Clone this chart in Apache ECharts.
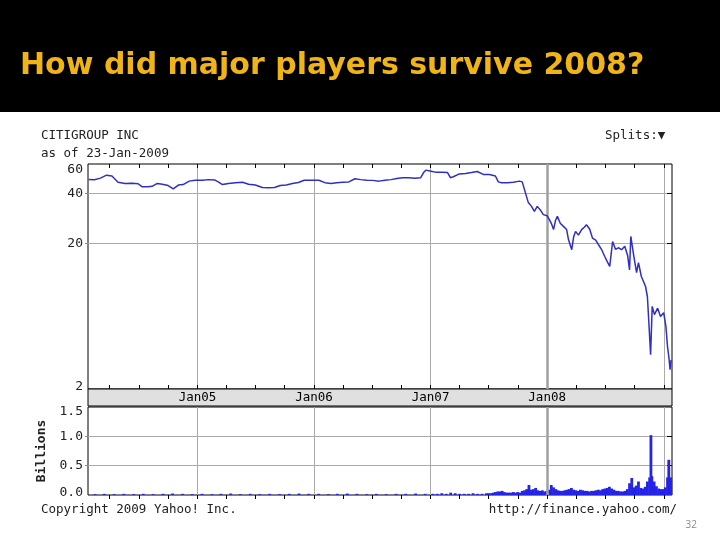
<!DOCTYPE html>
<html><head><meta charset="utf-8">
<script src="https://cdn.jsdelivr.net/npm/echarts@6/dist/echarts.min.js"></script>
<style>html,body{margin:0;padding:0;background:#fff}#c{width:720px;height:540px}</style>
</head><body><div id="c"></div>
<script>
// ---- data ----
const priceDates = [
'2004-01-26','2004-02-13','2004-03-03','2004-03-22','2004-04-08','2004-04-27','2004-05-19','2004-06-10','2004-06-29','2004-07-11',
'2004-07-30','2004-08-12','2004-08-28','2004-09-13','2004-10-01','2004-10-17','2004-11-02','2004-11-17','2004-12-06','2004-12-25',
'2005-01-16','2005-02-04','2005-02-23','2005-03-07','2005-03-20','2005-04-08','2005-04-30','2005-05-22','2005-06-10','2005-07-01',
'2005-07-23','2005-08-11','2005-08-30','2005-09-17','2005-10-06','2005-10-25','2005-11-13','2005-12-01','2005-12-20',
'2006-01-16','2006-02-04','2006-02-23','2006-03-13','2006-04-01','2006-04-20','2006-05-09','2006-05-27','2006-06-15','2006-07-04',
'2006-07-23','2006-08-11','2006-08-30','2006-09-17','2006-10-06','2006-10-25','2006-11-13','2006-12-01','2006-12-10','2006-12-17',
'2007-01-02','2007-01-16','2007-02-04','2007-02-23','2007-03-04','2007-03-13','2007-04-01','2007-04-20','2007-05-09','2007-05-27',
'2007-06-15','2007-07-04','2007-07-23','2007-08-01','2007-08-11','2007-08-30','2007-09-17','2007-10-06','2007-10-15','2007-10-25',
'2007-11-03','2007-11-13','2007-11-22','2007-12-01','2007-12-10','2007-12-20',
'2008-01-01','2008-01-08','2008-01-14','2008-01-21','2008-01-27','2008-02-02','2008-02-11','2008-02-21','2008-03-02','2008-03-08',
'2008-03-18','2008-03-24','2008-03-30','2008-04-08','2008-04-18','2008-04-27','2008-05-03','2008-05-13','2008-05-22','2008-06-01',
'2008-06-10','2008-06-19','2008-06-29','2008-07-08','2008-07-15','2008-07-24','2008-08-02','2008-08-12','2008-08-21','2008-08-31',
'2008-09-09','2008-09-15','2008-09-19','2008-09-28','2008-10-07','2008-10-13','2008-10-22','2008-11-04','2008-11-10','2008-11-14',
'2008-11-20','2008-11-25','2008-12-02','2008-12-12','2008-12-21','2008-12-31',
'2009-01-07','2009-01-12','2009-01-16','2009-01-20','2009-01-23'
];
const priceValues = [
48.6,48.4,49.5,51.6,51.0,46.8,46.0,46.2,45.8,44.0,
43.9,44.2,46.0,45.5,44.7,42.7,45.0,45.3,47.5,48.1,
48.1,48.5,48.3,47.0,45.3,46.0,46.5,46.8,45.5,45.0,
43.5,43.3,43.5,44.7,45.0,46.0,46.6,48.1,48.1,
48.1,46.5,46.0,46.5,46.8,47.0,49.1,48.5,48.1,48.0,
47.5,48.1,48.5,49.3,49.8,49.8,49.5,49.8,53.5,55.3,
54.5,53.8,53.8,53.5,49.8,50.5,52.5,52.8,53.5,54.3,
52.1,52.0,51.0,47.0,46.4,46.5,46.8,47.5,47.0,40.4,
35.3,33.5,31.3,33.5,32.0,29.9,
29.4,27.9,26.5,24.3,27.5,29.2,26.5,25.4,24.3,21.1,
18.4,22.0,23.7,22.5,24.3,25.2,26.0,24.5,21.6,21.0,
19.7,18.5,16.8,15.5,14.6,20.6,18.5,18.9,18.4,19.3,
17.0,13.9,22.1,17.0,13.4,15.4,12.7,11.1,9.6,7.0,
4.3,8.4,7.5,8.2,7.3,7.7,
6.35,4.8,4.2,3.5,4.0
];
const volDates = [
'2004-02-15','2004-03-15','2004-04-15','2004-05-15','2004-06-15','2004-07-15','2004-08-15','2004-09-15','2004-10-15','2004-11-15','2004-12-15',
'2005-01-15','2005-02-15','2005-03-15','2005-04-15','2005-05-15','2005-06-15','2005-07-15','2005-08-15','2005-09-15','2005-10-15','2005-11-15','2005-12-15',
'2006-01-15','2006-02-15','2006-03-15','2006-04-15','2006-05-15','2006-06-15','2006-07-15','2006-08-15','2006-09-15','2006-10-15','2006-11-15','2006-12-15',
'2007-01-08','2007-01-22','2007-02-05','2007-02-19','2007-03-05','2007-03-19','2007-04-02','2007-04-16','2007-04-30','2007-05-14','2007-05-28','2007-06-11','2007-06-25',
'2007-07-02','2007-07-09','2007-07-16','2007-07-23','2007-07-30','2007-08-06','2007-08-13','2007-08-20','2007-08-27','2007-09-03','2007-09-10','2007-09-17','2007-09-24',
'2007-10-01','2007-10-08','2007-10-15','2007-10-22','2007-10-29','2007-11-05','2007-11-12','2007-11-19','2007-11-26','2007-12-03','2007-12-10','2007-12-17','2007-12-24','2007-12-31',
'2008-01-07','2008-01-14','2008-01-21','2008-01-28','2008-02-04','2008-02-11','2008-02-18','2008-02-25','2008-03-03','2008-03-10','2008-03-17','2008-03-24','2008-03-31',
'2008-04-07','2008-04-14','2008-04-21','2008-04-28','2008-05-05','2008-05-12','2008-05-19','2008-05-26','2008-06-02','2008-06-09','2008-06-16','2008-06-23','2008-06-30',
'2008-07-07','2008-07-14','2008-07-21','2008-07-28','2008-08-04','2008-08-11','2008-08-18','2008-08-25','2008-09-01','2008-09-08','2008-09-15','2008-09-22','2008-09-29',
'2008-10-06','2008-10-13','2008-10-20','2008-10-27','2008-11-03','2008-11-10','2008-11-17','2008-11-21','2008-11-24','2008-12-01','2008-12-08','2008-12-15','2008-12-22','2008-12-29',
'2009-01-05','2009-01-12','2009-01-16','2009-01-19','2009-01-22'
];
const volValues = [
0.015,0.02,0.015,0.02,0.015,0.02,0.015,0.02,0.025,0.02,0.015,
0.02,0.015,0.02,0.025,0.015,0.02,0.015,0.02,0.015,0.02,0.025,0.02,
0.02,0.015,0.02,0.025,0.02,0.015,0.02,0.015,0.02,0.02,0.025,0.02,
0.02,0.02,0.03,0.02,0.04,0.03,0.02,0.02,0.02,0.03,0.02,0.02,0.03,
0.03,0.03,0.04,0.05,0.06,0.06,0.07,0.05,0.04,0.04,0.04,0.05,0.04,
0.05,0.04,0.07,0.08,0.10,0.17,0.09,0.10,0.12,0.08,0.07,0.08,0.06,0.07,
0.09,0.17,0.13,0.10,0.08,0.07,0.07,0.08,0.09,0.10,0.12,0.09,0.08,
0.07,0.09,0.08,0.07,0.07,0.06,0.07,0.07,0.08,0.09,0.08,0.10,0.11,
0.12,0.14,0.11,0.09,0.07,0.07,0.06,0.06,0.07,0.10,0.20,0.29,0.13,
0.16,0.23,0.12,0.11,0.14,0.23,0.30,1.02,0.32,0.23,0.15,0.11,0.10,0.10,
0.13,0.30,0.60,0.23,0.30
];
const quarterTicks = [
'2004-04-01','2004-07-01','2004-10-01','2005-01-01','2005-04-01','2005-07-01','2005-10-01',
'2006-01-01','2006-04-01','2006-07-01','2006-10-01','2007-01-01','2007-04-01','2007-07-01','2007-10-01',
'2008-01-01','2008-04-01','2008-07-01','2008-10-01','2009-01-01'
];
const yearTicks = ['2005-01-01','2006-01-01','2007-01-01','2008-01-01','2009-01-01'];
const yearLabels = ['2005-01-01','2006-01-01','2007-01-01','2008-01-01'];
const markYear = '2008-01-01';
const priceTicks = [20, 40];
const priceLabelPos = [2.77, 20, 40, 55.4];
const priceLabelText = ['2', '20', '40', '60'];
const volTicks = [0.5, 1.0];
const volLabelPos = [0.034, 0.5, 1.0, 1.415];
const volLabelText = ['0.0', '0.5', '1.0', '1.5'];
const xMin = '2004-01-24', xMax = '2009-01-26';
const priceMin = 2.68, priceMax = 60.2;

// ---- chart ----
const T = s => Date.parse(s);   // dates -> timestamps for the x scale
const MONO = "'DejaVu Sans Mono', 'Liberation Mono', monospace";
const GRID_GRAY = '#aaaaaa';
const chart = echarts.init(document.getElementById('c'), null, {renderer: 'canvas'});
function nearestLabel(pos, text) {
  return function (v) {
    let best = 0, bd = Infinity;
    for (let i = 0; i < pos.length; i++) { const d = Math.abs(pos[i] - v); if (d < bd) { bd = d; best = i; } }
    return text[best];
  };
}
const grids = [
  {left: 88, right: 48, top: 164, height: 225, show: true, borderColor: '#000', borderWidth: 1, backgroundColor: '#fff'},
  {left: 88, right: 48, top: 389, height: 17, show: true, borderColor: '#000', borderWidth: 1, backgroundColor: '#e0e0e0'},
  {left: 88, right: 48, top: 407, height: 88, show: true, borderColor: '#000', borderWidth: 1, backgroundColor: '#fff'}
];
function baseX(grid, position) {
  return {type: 'value', gridIndex: grid, position: position, min: T(xMin), max: T(xMax), scale: true};
}
function tickAxis(grid, position, values, len) {
  return Object.assign(baseX(grid, position), {
    axisLine: {show: false}, axisLabel: {show: false}, splitLine: {show: false},
    axisTick: {show: true, inside: true, length: len, customValues: values.map(T), lineStyle: {color: '#000', width: 1}}});
}
function splitAxis(grid) {
  return Object.assign(baseX(grid, 'bottom'), {
    axisLine: {show: false}, axisLabel: {show: false},
    axisTick: {show: false, customValues: yearTicks.map(T)},
    splitLine: {show: true, lineStyle: {color: GRID_GRAY, width: 1}}});
}
const xAxes = [
  tickAxis(0, 'top', quarterTicks, 4),     // 0
  tickAxis(0, 'bottom', quarterTicks, 4),  // 1
  splitAxis(0),                            // 2
  Object.assign(baseX(1, 'bottom'), {
    axisLine: {show: false}, axisTick: {show: false}, splitLine: {show: false},
    axisLabel: {show: true, inside: true, margin: 2, customValues: yearLabels.map(T), color: '#000',
      fontFamily: MONO, fontSize: 12.5,
      formatter: function (v) { const d = new Date(v); return 'Jan' + String(d.getUTCFullYear()).slice(2); }}}), // 3
  tickAxis(2, 'top', quarterTicks, 4),     // 4
  splitAxis(2)                             // 5
];
const yAxes = [
  {type: 'log', gridIndex: 0, position: 'left', min: priceMin, max: priceMax, logBase: 10,
    axisLine: {show: false},
    axisTick: {show: true, length: 3, customValues: priceTicks, lineStyle: {color: '#888'}},
    axisLabel: {show: true, customValues: priceLabelPos, margin: 5, color: '#222', fontFamily: MONO, fontSize: 13,
      formatter: nearestLabel(priceLabelPos, priceLabelText)},
    splitLine: {show: true, lineStyle: {color: GRID_GRAY, width: 1}}},
  {type: 'log', gridIndex: 0, position: 'right', min: priceMin, max: priceMax, logBase: 10,
    axisLine: {show: false}, axisLabel: {show: false}, splitLine: {show: false},
    axisTick: {show: true, inside: true, length: 5, customValues: priceTicks, lineStyle: {color: '#000'}}},
  {type: 'value', gridIndex: 1, min: 0, max: 1, show: false},
  {type: 'value', gridIndex: 2, position: 'left', min: 0, max: 1.5,
    name: 'Billions', nameLocation: 'middle', nameRotate: 90, nameGap: 22,
    nameTextStyle: {fontFamily: MONO, fontSize: 13, color: '#222', fontWeight: 'bold'},
    axisLine: {show: false},
    axisTick: {show: true, length: 3, customValues: volTicks, lineStyle: {color: '#888'}},
    axisLabel: {show: true, customValues: volLabelPos, margin: 5, color: '#222', fontFamily: MONO, fontSize: 13,
      formatter: nearestLabel(volLabelPos, volLabelText)},
    splitLine: {show: true, lineStyle: {color: GRID_GRAY, width: 1}}},
  {type: 'value', gridIndex: 2, position: 'right', min: 0, max: 1.5,
    axisLine: {show: false}, axisLabel: {show: false}, splitLine: {show: false},
    axisTick: {show: true, inside: true, length: 5, customValues: volTicks, lineStyle: {color: '#000'}}}
];
const yearMark = {silent: true, symbol: 'none', label: {show: false},
  lineStyle: {color: '#a0a0a0', width: 2.5, type: 'solid'}, data: [{xAxis: T(markYear)}]};
const smallText = {color: '#222', fontFamily: MONO, fontSize: 12.5, fontWeight: 'normal'};
const option = {
  animation: false,
  backgroundColor: '#ffffff',
  graphic: [{type: 'rect', left: 0, top: 0, z: -10, shape: {width: 720, height: 112}, style: {fill: '#000'}}],
  title: [
    {text: 'How did major players survive 2008?', left: 15, top: 46,
      textStyle: {color: '#f0b414', fontFamily: "'DejaVu Sans', sans-serif", fontSize: 30, fontWeight: 'bold'}},
    {text: 'CITIGROUP INC', left: 36, top: 124, textStyle: smallText},
    {text: 'as of 23-Jan-2009', left: 36, top: 142, textStyle: smallText},
    {text: 'Splits:\u25BC', left: 600, top: 124, textStyle: smallText},
    {text: 'Copyright 2009 Yahoo! Inc.', left: 36, top: 498, textStyle: smallText},
    {text: 'http://finance.yahoo.com/', right: 38, top: 498, textStyle: smallText},
    {text: '32', right: 18, top: 515, textStyle: {color: '#8a8a8a', fontFamily: "'Open Sans', sans-serif", fontSize: 10, fontWeight: 'normal'}}
  ],
  grid: grids,
  xAxis: xAxes,
  yAxis: yAxes,
  series: [
    {type: 'line', name: 'Price', xAxisIndex: 2, yAxisIndex: 0, showSymbol: false,
      data: priceDates.map((d, i) => [T(d), priceValues[i]]),
      lineStyle: {color: '#2f2fc4', width: 1.5}, itemStyle: {color: '#2f2fc4'},
      markLine: yearMark, z: 5},
    {type: 'bar', name: 'Volume', xAxisIndex: 5, yAxisIndex: 3, barWidth: 2.8,
      data: volDates.map((d, i) => [T(d), volValues[i]]),
      itemStyle: {color: '#2424e6'}, markLine: yearMark}
  ]
};
chart.setOption(option);
</script>
</body></html>
